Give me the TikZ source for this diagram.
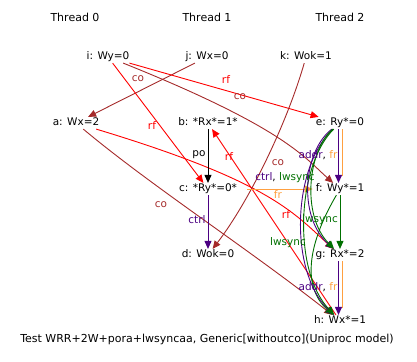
\documentclass[tikz,border=0pt]{standalone}
\usepackage{fontspec}
\setmainfont{DejaVu Sans}
\usetikzlibrary{arrows.meta}
\definecolor{cobrown}{RGB}{165,42,42}
\definecolor{rfred}{RGB}{255,0,0}
\definecolor{frorange}{RGB}{255,160,64}
\definecolor{depviolet}{RGB}{75,0,130}
\definecolor{fencegreen}{RGB}{0,112,0}
\begin{document}
\begin{tikzpicture}[x=1pt,y=-1pt,
    every node/.style={font=\fontsize{10.5}{12}\selectfont},
    big/.style={font=\fontsize{11}{13}\selectfont},
    ev/.style={inner xsep=3pt,inner ysep=1pt,text height=7.5pt,text depth=2.3pt},
    lbl/.style={inner sep=0pt},
    rel/.style={line width=.9pt,-{Triangle[length=8pt,width=7pt]}},
    coarr/.style={rel,cobrown},
    rfarr/.style={rel,rfred},
    frarr/.style={rel,frorange},
    frline/.style={line width=.9pt,frorange,shorten >=7pt},
    poarr/.style={rel,black},
    deparr/.style={rel,depviolet},
    fencearr/.style={rel,fencegreen}]
  \useasboundingbox (0,0) rectangle (417,361);
  \node[big] (t0) at (75,17) {Thread 0};
  \node[big] (t1) at (207,17) {Thread 1};
  \node[big] (t2) at (340,17) {Thread 2};
  \node[ev] (i) at (108,57) {i: Wy=0};
  \node[ev] (j) at (207,57) {j: Wx=0};
  \node[ev] (k) at (306,57) {k: Wok=1};
  \node[ev] (a) at (76,123) {a: Wx=2};
  \node[ev] (b) at (208,123) {b: *Rx*=1*};
  \node[ev] (e) at (340,123) {e: Ry*=0};
  \node[ev] (c) at (208,189) {c: *Ry*=0*};
  \node[ev] (f) at (340,189) {f: Wy*=1};
  \node[ev] (d) at (208,255) {d: Wok=0};
  \node[ev] (g) at (340,255) {g: Rx*=2};
  \node[ev] (h) at (340,321) {h: Wx*=1};
  \node[big] (cap) at (207,339) {Test WRR+2W+pora+lwsyncaa, Generic[withoutco](Uniproc model)};
  % coherence and reads-from
  \draw[coarr] (j) -- (a);
  \draw[rfarr] (i) -- (e);
  \draw[coarr] (i) .. controls (285,128) and (305,158) .. (f);
  \draw[rfarr] (i) -- (c);
  \draw[rfarr] (a) .. controls (268,181) and (293,212) .. (g);
  \draw[rfarr] (h) -- (b);
  \draw[coarr] (k) .. controls (287,123) and (250,200) .. (d);
  \draw[coarr] (a) .. controls (150,185) and (250,250) .. (h);
  \draw[frarr] ([xshift=7pt]c.east) -- (f);
  % program order, dependencies, fences
  \draw[poarr] (b) -- (c);
  \draw[deparr] (c) -- (d);
  \draw[frline] ([xshift=2.5pt]e.south) -- ([xshift=2.5pt]f.north);
  \draw[deparr] ([xshift=-1.5pt]e.south) -- ([xshift=-1.5pt]f.north);
  \draw[frline] ([xshift=2.5pt]g.south) -- ([xshift=2.5pt]h.north);
  \draw[deparr] ([xshift=-1.5pt]g.south) -- ([xshift=-1.5pt]h.north);
  \draw[fencearr] (f) -- (g);
  \draw[fencearr] (f) .. controls (310,240) and (300,285) .. (h);
  \draw[deparr] (e) .. controls (293,165) and (288,270) .. (h);
  \draw[fencearr] (e) .. controls (297,165) and (292,270) .. (h);
  \draw[deparr] (e) .. controls (304,150) and (297,215) .. (g);
  \draw[fencearr] (e) .. controls (308,150) and (301,215) .. (g);
  % labels
  \node[lbl,cobrown] (lja) at (138,79) {co};
  \node[lbl,rfred] (lie) at (226,80) {rf};
  \node[lbl,cobrown] (lif) at (240,97) {co};
  \node[lbl,rfred] (lic) at (152,126) {rf};
  \node[lbl] (lbc) at (199,155) {po};
  \node[lbl,rfred] (lhb) at (229,157) {rf};
  \node[lbl] (lef) at (318,155) {\textcolor{depviolet}{addr}, \textcolor{frorange}{fr}};
  \node[lbl,cobrown] (lkd) at (278,163) {co};
  \node[lbl] (leg) at (285,178) {\textcolor{depviolet}{ctrl}, \textcolor{fencegreen}{lwsync}};
  \node[lbl,frorange] (lcf) at (278,195) {fr};
  \node[lbl,cobrown] (lah) at (161,205) {co};
  \node[lbl,rfred] (lag) at (286,215) {rf};
  \node[lbl,fencegreen] (lfg) at (320,220) {lwsync};
  \node[lbl,depviolet] (lcd) at (197,220) {ctrl};
  \node[lbl,fencegreen] (lfh) at (288,243) {lwsync};
  \node[lbl] (lgh) at (318,287) {\textcolor{depviolet}{addr}, \textcolor{frorange}{fr}};
\end{tikzpicture}
\end{document}
